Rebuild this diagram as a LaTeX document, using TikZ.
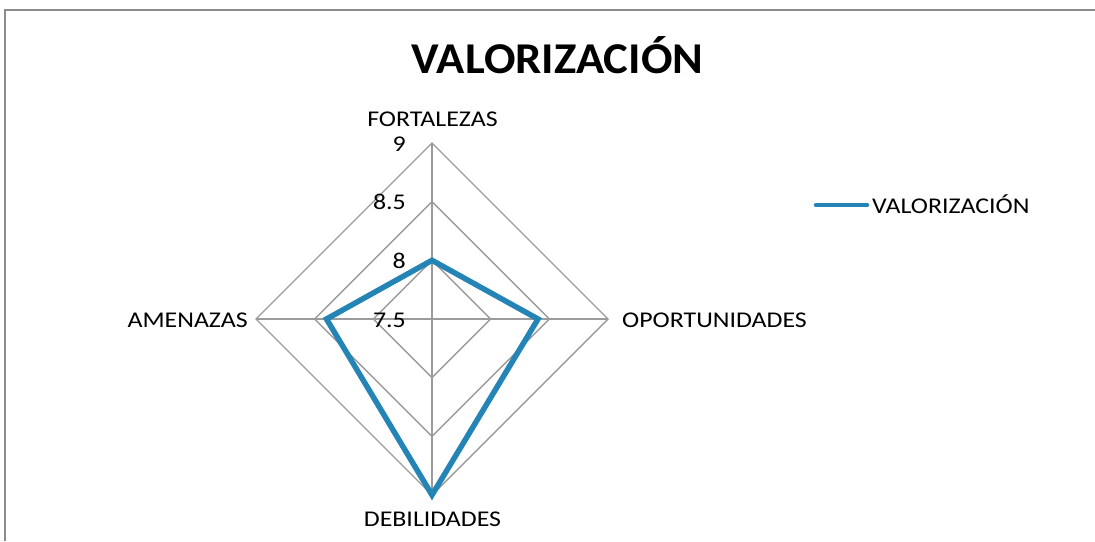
\documentclass[tikz,border=0pt]{standalone}
\usepackage{fontspec}
\setmainfont{Carlito}
\newfontfamily\chartfont{Carlito}[FakeStretch=1.15]
\newfontfamily\titlefont{Carlito}[FakeStretch=1.06]
\usetikzlibrary{positioning}
\definecolor{gridgray}{RGB}{155,155,155}
\definecolor{framegray}{RGB}{140,140,140}
\definecolor{serieblue}{RGB}{36,132,182}

\begin{document}
\begin{tikzpicture}[x = 1pt, y = -1pt, style={font=\chartfont\fontsize{22.5}{22.5}\selectfont}, every node/.style={inner sep=0pt}]
\useasboundingbox (0,0) rectangle (1095,541);
% Chart frame
\draw[framegray, line width=1.5pt] (5,541) -- (5,10) -- (1095,10);
% Title
\node[anchor=base] (title) at (557.5,73) {\titlefont\fontsize{44}{44}\selectfont\bfseries VALORIZACIÓN};
% Grid rings (8, 8.5, 9) and axes
\coordinate (c) at (432,319);
\draw[gridgray, line width=1.4pt] (432,260.3) -- (490.7,319) -- (432,377.7) -- (373.3,319) -- cycle;
\draw[gridgray, line width=1.4pt] (432,201.7) -- (549.3,319) -- (432,436.3) -- (314.7,319) -- cycle;
\draw[gridgray, line width=1.4pt] (432,143) -- (608,319) -- (432,495) -- (256,319) -- cycle;
\draw[gridgray, line width=1.4pt] (432,143) -- (432,495);
\draw[gridgray, line width=1.4pt] (256,319) -- (608,319);
% Axis labels
\node[anchor=base] (fort) at (432.5,126) {FORTALEZAS};
\node[anchor=base west] (oport) at (622,327) {OPORTUNIDADES};
\node[anchor=base] (debil) at (432.5,526) {DEBILIDADES};
\node[anchor=base east] (amen) at (248,327) {AMENAZAS};
% Scale labels
\node[anchor=base east] (t9) at (406,151) {9};
\node[anchor=base east] (t85) at (406,209) {8.5};
\node[anchor=base east] (t8) at (406,268) {8};
\node[anchor=base east] (t75) at (406,327) {7.5};
% Data series
\coordinate (pf) at (432,260.3);
\coordinate (po) at (538,319);
\coordinate (pd) at (432,495);
\coordinate (pa) at (326.5,319);
\draw[serieblue, line width=5.5pt] (pf) -- (po) -- (pd) -- (pa) -- cycle;
% Legend
\coordinate (l1) at (816,205);
\coordinate (l2) at (867,205);
\draw[serieblue, line width=4.5pt, line cap=round] (l1) -- (l2);
\node[anchor=base west] (legtext) at (872,213) {VALORIZACIÓN};
\end{tikzpicture}
\end{document}
